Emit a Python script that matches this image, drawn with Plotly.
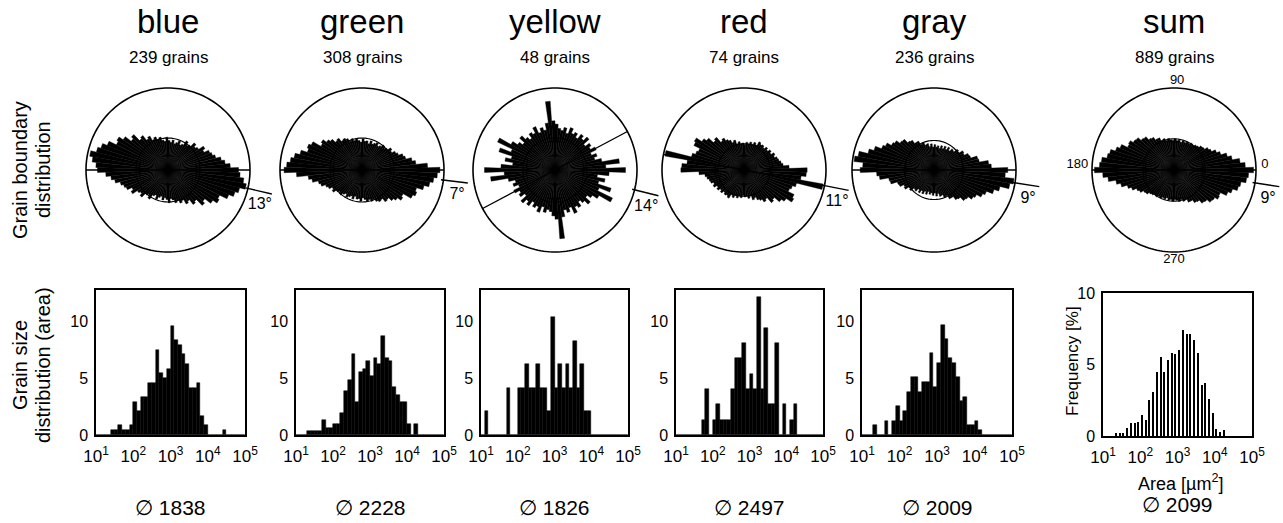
import plotly.graph_objects as go

FONT = "Liberation Sans, Arial, Helvetica, sans-serif"
W, H = 1283, 523

# ---------------- data ----------------
SAMPLES = ["blue", "green", "yellow", "red", "gray", "sum"]
GRAIN_COUNTS = [239, 308, 48, 74, 236, 889]
MEAN_AREA = [1838, 2228, 1826, 2497, 2009, 2099]
TILT_DEG = [13, 7, 14, 11, 9, 9]
REF_LINE_DEG = [0, 0, 28, -11, 0, 0]
INNER_CIRCLE = [0.39, 0.39, 0.39, 0.32, 0.36, 0.38]
COMPASS_LABELS = ["0", "90", "180", "270"]
COMPASS_THETA = [3, 88, 177, 270]
COMPASS_R = [1.11, 1.09, 1.18, 1.09]

# rose diagram: axial orientation bins (deg), 4 deg wide, 0..176 (mirrored for 180..356)
ROSE_THETA = [0, 4, 8, 12, 16, 20, 24, 28, 32, 36, 40, 44, 48, 52, 56, 60, 64, 68, 72, 76,
              80, 84, 88, 92, 96, 100, 104, 108, 112, 116, 120, 124, 128, 132, 136, 140,
              144, 148, 152, 156, 160, 164, 168, 172, 176]
ROSE_BLUE = [0.86, 0.76, 0.70, 0.66, 0.60, 0.57, 0.55, 0.49, 0.52, 0.45, 0.43, 0.46, 0.40, 0.38, 0.42,
             0.36, 0.34, 0.38, 0.35, 0.33, 0.37, 0.34, 0.36, 0.40, 0.35, 0.37, 0.41, 0.39, 0.43, 0.41,
             0.47, 0.45, 0.52, 0.50, 0.60, 0.57, 0.66, 0.72, 0.70, 0.80, 0.86, 0.90, 0.97, 0.93, 0.88]
ROSE_GREEN = [0.95, 0.80, 0.66, 0.62, 0.55, 0.53, 0.48, 0.46, 0.42, 0.44, 0.40, 0.38, 0.40, 0.37, 0.35,
              0.38, 0.36, 0.34, 0.37, 0.33, 0.36, 0.35, 0.38, 0.34, 0.36, 0.39, 0.37, 0.40, 0.38, 0.42,
              0.44, 0.43, 0.48, 0.47, 0.52, 0.55, 0.60, 0.58, 0.69, 0.72, 0.70, 0.78, 0.84, 0.88, 0.92]
ROSE_YELLOW = [0.86, 0.62, 0.79, 0.58, 0.50, 0.54, 0.48, 0.56, 0.50, 0.53, 0.47, 0.56, 0.50, 0.54, 0.47,
               0.52, 0.49, 0.55, 0.47, 0.53, 0.49, 0.51, 0.56, 0.60, 0.84, 0.58, 0.50, 0.54, 0.49, 0.58,
               0.51, 0.54, 0.48, 0.52, 0.58, 0.50, 0.55, 0.62, 0.78, 0.58, 0.72, 0.55, 0.62, 0.52, 0.66]
ROSE_RED = [0.77, 0.55, 0.48, 0.46, 0.44, 0.43, 0.40, 0.42, 0.38, 0.40, 0.37, 0.39, 0.36, 0.38, 0.37,
            0.39, 0.34, 0.36, 0.33, 0.35, 0.32, 0.34, 0.31, 0.33, 0.32, 0.35, 0.33, 0.38, 0.36, 0.40,
            0.42, 0.46, 0.44, 0.52, 0.50, 0.58, 0.62, 0.70, 0.68, 0.60, 0.62, 0.66, 0.98, 0.70, 0.76]
ROSE_GRAY = [0.90, 0.70, 0.67, 0.56, 0.55, 0.47, 0.46, 0.41, 0.42, 0.37, 0.38, 0.33, 0.34, 0.30, 0.33,
             0.29, 0.32, 0.28, 0.31, 0.27, 0.30, 0.28, 0.31, 0.28, 0.32, 0.29, 0.33, 0.32, 0.36, 0.35,
             0.40, 0.40, 0.45, 0.46, 0.52, 0.53, 0.58, 0.60, 0.66, 0.69, 0.77, 0.83, 0.94, 0.98, 0.87]
ROSE_SUM = [0.97, 0.87, 0.81, 0.72, 0.67, 0.60, 0.56, 0.51, 0.49, 0.45, 0.44, 0.41, 0.40, 0.38, 0.39,
            0.37, 0.38, 0.36, 0.37, 0.35, 0.37, 0.36, 0.38, 0.36, 0.37, 0.39, 0.37, 0.40, 0.39, 0.43,
            0.43, 0.47, 0.48, 0.53, 0.54, 0.59, 0.60, 0.64, 0.63, 0.71, 0.75, 0.81, 0.83, 0.89, 0.91]
ROSES = [ROSE_BLUE, ROSE_GREEN, ROSE_YELLOW, ROSE_RED, ROSE_GRAY, ROSE_SUM]

# grain size histograms: bin centres in log10(area / um^2), frequency in %
LOG_BINS = [1.05, 1.15, 1.25, 1.35, 1.45, 1.55, 1.65, 1.75, 1.85, 1.95,
            2.05, 2.15, 2.25, 2.35, 2.45, 2.55, 2.65, 2.75, 2.85, 2.95,
            3.05, 3.15, 3.25, 3.35, 3.45, 3.55, 3.65, 3.75, 3.85, 3.95,
            4.05, 4.15, 4.25, 4.35, 4.45, 4.55, 4.65, 4.75, 4.85, 4.95]
HIST_BLUE = [0, 0, 0, 0, 0.42, 0.42, 0.84, 0.42, 0.42, 0.84,
             2.93, 2.09, 3.35, 3.35, 4.60, 4.60, 7.53, 5.44, 5.02, 5.86,
             9.62, 8.37, 7.95, 7.11, 6.28, 4.18, 4.18, 4.60, 1.67, 0.84,
             0, 0, 0, 0, 0.42, 0, 0, 0, 0, 0]
HIST_GREEN = [0, 0, 0, 0.32, 0.32, 0.32, 0.32, 1.30, 0.65, 0.65,
              0.97, 0.97, 1.95, 3.90, 4.87, 7.14, 2.92, 5.52, 5.84, 6.49,
              5.20, 6.82, 6.30, 8.77, 6.82, 6.49, 4.22, 3.57, 2.92, 2.92,
              0.97, 0, 0.97, 0, 0, 0, 0, 0, 0, 0]
HIST_YELLOW = [0, 2.08, 0, 0, 0, 0, 0, 4.17, 0, 0,
               4.17, 4.17, 6.25, 4.17, 4.17, 6.25, 4.17, 4.17, 2.08, 10.42,
               4.17, 6.25, 4.17, 6.25, 4.17, 8.33, 4.17, 6.25, 2.08, 2.08,
               0, 0, 0, 0, 0, 0, 0, 0, 0, 0]
HIST_RED = [0, 0, 0, 0, 0, 0, 0, 1.35, 4.05, 0,
            1.35, 2.70, 1.35, 1.35, 1.35, 4.05, 6.76, 6.76, 8.11, 4.05,
            5.41, 4.05, 12.16, 4.05, 9.46, 2.70, 2.70, 8.11, 0, 2.70,
            0, 1.35, 2.70, 0, 0, 0, 0, 0, 0, 0]
HIST_GRAY = [0, 0, 0, 0.85, 0, 0, 1.27, 0, 1.27, 2.54,
             1.27, 2.12, 3.81, 5.08, 5.08, 3.81, 4.66, 4.66, 7.20, 4.24,
             6.36, 9.75, 8.47, 6.78, 6.36, 5.08, 2.97, 3.39, 0.85, 0.85,
             1.27, 0.42, 0, 0, 0, 0, 0, 0, 0, 0]
HIST_SUM = [0, 0, 0, 0.20, 0.20, 0.20, 0.55, 0.90, 0.90, 1.00,
            1.50, 1.15, 2.50, 3.10, 4.50, 5.50, 4.50, 5.30, 5.80, 5.70,
            6.00, 7.40, 7.10, 7.10, 6.70, 5.80, 3.60, 3.70, 2.60, 1.60,
            0.50, 0.25, 0.40, 0, 0, 0, 0, 0, 0, 0]
HISTS = [HIST_BLUE, HIST_GREEN, HIST_YELLOW, HIST_RED, HIST_GRAY, HIST_SUM]

X_TICKVALS = [1, 2, 3, 4, 5]
X_TICKTEXT = ["10<sup>1</sup>", "10<sup>2</sup>", "10<sup>3</sup>", "10<sup>4</sup>", "10<sup>5</sup>"]
Y_TICKVALS = [0, 5, 10]

# ---------------- layout geometry (pixels) ----------------
ROSE_CX = [168, 362, 555, 744, 934, 1174]
ROSE_CY = 170
ROSE_R = 82          # pixel radius of the outer circle (r = 1)
R_MAX = 1.32         # radial range, leaves room for the tilt marks
HIST_X0 = [96, 296, 481, 676, 862, 1103]
HIST_X1 = [245, 444, 628, 823, 1012, 1252]
HIST_TOP = [290, 290, 290, 290, 290, 293]
HIST_BOT = [435, 435, 435, 435, 435, 436]


def px(x):
    return min(1.0, max(0.0, x / W))


def py(y):
    return min(1.0, max(0.0, 1 - y / H))


fig = go.Figure()
layout = dict()
annotations = []
LINE = dict(color="black", width=1.4)
CIRCLE_THETA = list(range(0, 361, 2))

for i, name in enumerate(SAMPLES):
    sub = "polar" if i == 0 else f"polar{i + 1}"
    theta = ROSE_THETA + [t + 180 for t in ROSE_THETA]
    r = ROSES[i] + ROSES[i]

    fig.add_trace(go.Scatterpolar(
        r=[INNER_CIRCLE[i]] * len(CIRCLE_THETA), theta=CIRCLE_THETA, mode="lines",
        line=dict(color="black", width=1.2), subplot=sub, showlegend=False, hoverinfo="skip"))
    fig.add_trace(go.Barpolar(
        r=r, theta=theta, width=[4] * len(theta),
        marker=dict(color="black", line=dict(color="black", width=0.4)),
        subplot=sub, showlegend=False))
    fig.add_trace(go.Scatterpolar(
        r=[1] * len(CIRCLE_THETA), theta=CIRCLE_THETA, mode="lines",
        line=dict(color="black", width=1.6), subplot=sub, showlegend=False, hoverinfo="skip"))
    a = REF_LINE_DEG[i]
    fig.add_trace(go.Scatterpolar(
        r=[1, 0, 1], theta=[a, a, a + 180], mode="lines", line=LINE,
        subplot=sub, showlegend=False, hoverinfo="skip"))
    b = -TILT_DEG[i]
    fig.add_trace(go.Scatterpolar(
        r=[0.97, 1.3], theta=[b, b], mode="lines", line=LINE, cliponaxis=False,
        subplot=sub, showlegend=False, hoverinfo="skip"))
    fig.add_trace(go.Scatterpolar(
        r=[1.2], theta=[b - 8], mode="text", text=[f"{TILT_DEG[i]}°"],
        textfont=dict(size=16, color="black", family=FONT), cliponaxis=False,
        subplot=sub, showlegend=False, hoverinfo="skip"))
    if name == "sum":
        fig.add_trace(go.Scatterpolar(
            r=COMPASS_R, theta=COMPASS_THETA, mode="text", text=COMPASS_LABELS,
            textfont=dict(size=13, color="black", family=FONT), cliponaxis=False,
            subplot=sub, showlegend=False, hoverinfo="skip"))

    cx = ROSE_CX[i]
    rr = ROSE_R * R_MAX
    layout[sub] = dict(
        domain=dict(x=[px(cx - rr), px(cx + rr)],
                    y=[py(ROSE_CY + rr), py(ROSE_CY - rr)]),
        bgcolor="rgba(0,0,0,0)",
        bargap=0,
        radialaxis=dict(visible=False, range=[0, R_MAX]),
        angularaxis=dict(visible=False, showline=False, showgrid=False, ticks="",
                         showticklabels=False, rotation=0, direction="counterclockwise"),
    )

    # histogram
    xa = "x" if i == 0 else f"x{i + 1}"
    ya = "y" if i == 0 else f"y{i + 1}"
    is_sum = name == "sum"
    fig.add_trace(go.Bar(
        x=LOG_BINS, y=HISTS[i], width=0.035 if is_sum else 0.1,
        marker=dict(color="black", line=dict(color="black", width=0 if is_sum else 0.5)),
        xaxis=xa, yaxis=ya, showlegend=False))
    xk = "xaxis" if i == 0 else f"xaxis{i + 1}"
    yk = "yaxis" if i == 0 else f"yaxis{i + 1}"
    layout[xk] = dict(
        domain=[px(HIST_X0[i]), px(HIST_X1[i])], anchor=ya, range=[1, 5],
        tickmode="array", tickvals=X_TICKVALS, ticktext=X_TICKTEXT,
        showline=True, mirror=True, linecolor="black", linewidth=1.5,
        ticks="", showgrid=False, zeroline=False, ticklabelstandoff=5, automargin=False,
        tickfont=dict(size=17, color="black", family=FONT))
    layout[yk] = dict(
        domain=[py(HIST_BOT[i]), py(HIST_TOP[i])], anchor=xa,
        range=[0, 10] if is_sum else [0, 12.8],
        tickmode="array", tickvals=Y_TICKVALS,
        showline=True, mirror=True, linecolor="black", linewidth=1.5,
        ticks="", showgrid=False, zeroline=False, ticklabelstandoff=3, automargin=False,
        tickfont=dict(size=16, color="black", family=FONT))

    # texts
    annotations.append(dict(x=px(cx), y=py(22), text=name,
                            font=dict(size=33, color="black", family=FONT)))
    annotations.append(dict(x=px(cx), y=py(57), text=f"{GRAIN_COUNTS[i]} grains",
                            font=dict(size=17, color="black", family=FONT)))
    hx = (HIST_X0[i] + HIST_X1[i]) / 2
    annotations.append(dict(x=px(hx), y=py(504 if is_sum else 507), text=f"∅ {MEAN_AREA[i]}",
                            font=dict(size=21, color="black", family=FONT)))

for txt, x, y in [("Grain boundary", 20, 170), ("distribution", 43, 170),
                  ("Grain size", 20, 365), ("distribution (area)", 43, 365)]:
    annotations.append(dict(x=px(x), y=py(y), text=txt, textangle=-90,
                            font=dict(size=20, color="black", family=FONT)))

annotations.append(dict(x=px(1072), y=py(361), text="Frequency [%]", textangle=-90,
                        font=dict(size=17, color="black", family=FONT)))
annotations.append(dict(x=px(1180), y=py(482), text="Area [µm<sup>2</sup>]",
                        font=dict(size=18, color="black", family=FONT)))
for ann in annotations:
    ann.update(xref="paper", yref="paper", showarrow=False, xanchor="center", yanchor="middle")

fig.update_layout(**layout)
fig.update_layout(
    width=W, height=H, autosize=False,
    margin=dict(l=0, r=0, t=0, b=0, pad=0, autoexpand=False),
    paper_bgcolor="white", plot_bgcolor="white",
    bargap=0, showlegend=False,
    font=dict(family=FONT, color="black"),
    annotations=annotations,
)

fig.write_html("out.html", config={"displayModeBar": False},
               post_script="document.body.style.margin='0px';document.body.style.overflow='hidden';")
